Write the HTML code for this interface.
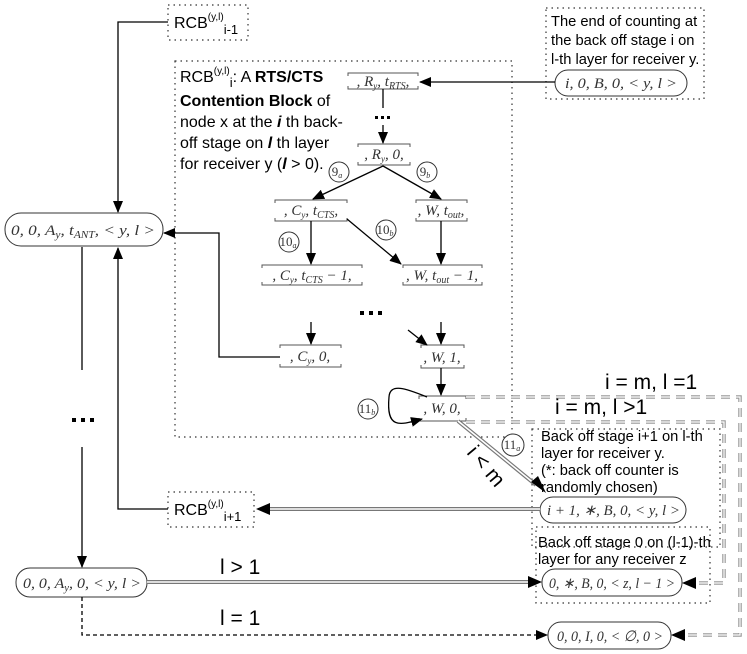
<!DOCTYPE html>
<html><head><meta charset="utf-8"><style>
html,body{margin:0;padding:0;background:#fff}
svg{display:block}
.t{font-family:"Liberation Sans",sans-serif;font-size:16px;fill:#000}
.s{font-size:14.7px}
.m{font-family:"Liberation Serif",serif;font-size:15px;fill:#333;font-style:italic}
.dot{fill:none;stroke:#333;stroke-width:1.2;stroke-dasharray:1.5,4}
.ln{fill:none;stroke:#000;stroke-width:1.3}
.el{fill:#fff;stroke:#333;stroke-width:1}
.bx{fill:none;stroke:#555;stroke-width:1}
.dbl{fill:none;stroke:#777;stroke-width:4}
.dblw{fill:none;stroke:#fff;stroke-width:1.6}
.gd{fill:none;stroke:#999;stroke-width:3.5;stroke-dasharray:9,6}
.gdw{fill:none;stroke:#fff;stroke-width:1.2;stroke-dasharray:9,6}
</style></head><body>
<svg width="747" height="654" viewBox="0 0 747 654" xmlns="http://www.w3.org/2000/svg">
<defs>
<marker id="a" markerWidth="12" markerHeight="10" refX="11" refY="5" orient="auto" markerUnits="userSpaceOnUse"><path d="M0,0 L12,5 L0,10 Z" fill="#000"/></marker>
</defs>
<rect class="dot" x="168" y="5" width="80" height="35"/>
<rect class="dot" x="175" y="61" width="337" height="376"/>
<rect class="dot" x="546" y="8" width="158" height="91"/>
<rect class="dot" x="532" y="429" width="188" height="118"/>
<rect class="dot" x="536" y="527" width="174" height="76"/>
<rect class="dot" x="168" y="492" width="86" height="35"/>

<text class="t" x="174" y="28">RCB<tspan font-size="10" dy="-8">(y,l)</tspan><tspan font-size="13" dy="14">i-1</tspan></text>
<text class="t" x="174" y="515">RCB<tspan font-size="10" dy="-8">(y,l)</tspan><tspan font-size="13" dy="14">i+1</tspan></text>
<text class="t" x="180" y="82">RCB<tspan font-size="10" dy="-8">(y,l)</tspan><tspan font-size="13" dy="13">i</tspan><tspan dy="-5">: A </tspan><tspan font-weight="bold">RTS/CTS</tspan></text>
<text class="t" x="180" y="106"><tspan font-weight="bold">Contention Block</tspan> of</text>
<text class="t" x="180" y="127">node x at the <tspan font-weight="bold" font-style="italic">i</tspan> th back-</text>
<text class="t" x="180" y="148">off stage on <tspan font-weight="bold" font-style="italic">l</tspan> th layer</text>
<text class="t" x="180" y="169">for receiver y (<tspan font-weight="bold" font-style="italic">l</tspan> &gt; 0).</text>

<text class="t s" x="551" y="26">The end of counting at</text>
<text class="t s" x="551" y="45">the back off stage i on</text>
<text class="t s" x="551" y="64">l-th layer for receiver y.</text>
<text class="t s" x="541" y="441">Back off stage i+1 on l-th</text>
<text class="t s" x="541" y="458">layer for receiver y.</text>
<text class="t s" x="541" y="475">(*: back off counter is</text>
<text class="t s" x="541" y="492">randomly chosen)</text>
<text class="t s" x="538" y="547">Back off stage 0 on (l-1)-th</text>
<text class="t s" x="538" y="564">layer for any receiver z</text>

<rect class="el" x="555" y="70" width="132" height="26" rx="13"/>
<text class="m" x="565" y="88" textLength="112" lengthAdjust="spacingAndGlyphs">i, 0, B, 0, &lt; y, l &gt;</text>
<rect class="el" x="5" y="213" width="158" height="33" rx="16"/>
<text class="m" x="11" y="235" textLength="144" lengthAdjust="spacingAndGlyphs">0, 0, A<tspan font-size="10" dy="3">y</tspan><tspan dy="-3">, t</tspan><tspan font-size="10" dy="3">ANT</tspan><tspan dy="-3">, &lt; y, l &gt;</tspan></text>
<rect class="el" x="540" y="497" width="146" height="26" rx="13"/>
<text class="m" x="547" y="515" textLength="133" lengthAdjust="spacingAndGlyphs">i + 1, ∗, B, 0, &lt; y, l &gt;</text>
<rect class="el" x="542" y="569" width="140" height="27" rx="13"/>
<text class="m" x="549" y="588" textLength="126" lengthAdjust="spacingAndGlyphs">0, ∗, B, 0, &lt; z, l − 1 &gt;</text>
<rect class="el" x="16" y="568" width="131" height="29" rx="14"/>
<text class="m" x="23" y="588" textLength="118" lengthAdjust="spacingAndGlyphs">0, 0, A<tspan font-size="10" dy="3">y</tspan><tspan dy="-3">, 0, &lt; y, l &gt;</tspan></text>
<rect class="el" x="548" y="622" width="123" height="27" rx="13"/>
<text class="m" x="557" y="641" textLength="106" lengthAdjust="spacingAndGlyphs">0, 0, I, 0, &lt; ∅, 0 &gt;</text>

<g class="bx">
<path d="M348,76 V73 H418 V76 M348,86 V89 H418 V86"/>
<path d="M358,147 V144 H410 V147 M358,162 V165 H410 V162"/>
<path d="M275,203 V200 H347 V203 M275,218 V221 H347 V218"/>
<path d="M416,203 V200 H467 V203 M416,218 V221 H467 V218"/>
<path d="M262,268 V265 H362 V268 M262,282 V285 H362 V282"/>
<path d="M403,268 V265 H482 V268 M403,282 V285 H482 V282"/>
<path d="M280,348 V345 H341 V348 M280,364 V367 H341 V364"/>
<path d="M421,348 V345 H464 V348 M421,365 V368 H464 V365"/>
<path d="M419,399 V396 H466 V399 M419,418 V421 H466 V418"/>
</g>
<g class="m" font-size="15">
<text x="383" y="86" text-anchor="middle">, R<tspan font-size="9" dy="3">y</tspan><tspan dy="-3">, t</tspan><tspan font-size="10" dy="3">RTS</tspan><tspan dy="-3">,</tspan></text>
<text x="384" y="159" text-anchor="middle">, R<tspan font-size="9" dy="3">y</tspan><tspan dy="-3">, 0,</tspan></text>
<text x="311" y="215" text-anchor="middle">, C<tspan font-size="9" dy="3">y</tspan><tspan dy="-3">, t</tspan><tspan font-size="10" dy="3">CTS</tspan><tspan dy="-3">,</tspan></text>
<text x="441" y="215" text-anchor="middle">, W, t<tspan font-size="10" dy="3">out</tspan><tspan dy="-3">,</tspan></text>
<text x="312" y="280" text-anchor="middle">, C<tspan font-size="9" dy="3">y</tspan><tspan dy="-3">, t</tspan><tspan font-size="10" dy="3">CTS</tspan><tspan dy="-3"> − 1,</tspan></text>
<text x="442" y="280" text-anchor="middle">, W, t<tspan font-size="10" dy="3">out</tspan><tspan dy="-3"> − 1,</tspan></text>
<text x="310" y="361" text-anchor="middle">, C<tspan font-size="9" dy="3">y</tspan><tspan dy="-3">, 0,</tspan></text>
<text x="442" y="362" text-anchor="middle">, W, 1,</text>
<text x="442" y="413" text-anchor="middle">, W, 0,</text>
</g>

<g fill="#fff" stroke="#333" stroke-width="1">
<circle cx="339" cy="172" r="10"/><circle cx="427" cy="172" r="10"/>
<circle cx="289" cy="242" r="10"/><circle cx="386" cy="230" r="10"/>
<circle cx="368" cy="409" r="10"/><circle cx="513" cy="445" r="11"/>
</g>
<g font-family="Liberation Serif, serif" font-size="13" fill="#333" text-anchor="middle">
<text x="337" y="176">9<tspan font-size="8" dy="2" font-style="italic">a</tspan></text>
<text x="425" y="176">9<tspan font-size="8" dy="2" font-style="italic">b</tspan></text>
<text x="288" y="246">10<tspan font-size="8" dy="2" font-style="italic">a</tspan></text>
<text x="385" y="234">10<tspan font-size="8" dy="2" font-style="italic">b</tspan></text>
<text x="367" y="413">11<tspan font-size="8" dy="2" font-style="italic">b</tspan></text>
<text x="512" y="449">11<tspan font-size="8" dy="2" font-style="italic">a</tspan></text>
</g>

<g fill="#000">
<rect x="375" y="116" width="3" height="3"/><rect x="381" y="116" width="3" height="3"/><rect x="387" y="116" width="3" height="3"/>
<rect x="360" y="311" width="4" height="4"/><rect x="369" y="311" width="4" height="4"/><rect x="378" y="311" width="4" height="4"/>
<rect x="72" y="418" width="4" height="4"/><rect x="81" y="418" width="4" height="4"/><rect x="90" y="418" width="4" height="4"/>
</g>

<g class="ln">
<path d="M555,82 H420" marker-end="url(#a)"/>
<path d="M383,89 V108"/>
<path d="M383,125 V143" marker-end="url(#a)"/>
<path d="M383,166 L313,199" marker-end="url(#a)"/>
<path d="M383,166 L441,199" marker-end="url(#a)"/>
<path d="M311,221 V264" marker-end="url(#a)"/>
<path d="M347,219 L401,264" marker-end="url(#a)"/>
<path d="M441,221 V264" marker-end="url(#a)"/>
<path d="M311,322 V344" marker-end="url(#a)"/>
<path d="M408,330 L427,345" marker-end="url(#a)"/>
<path d="M441,322 V344" marker-end="url(#a)"/>
<path d="M441,368 V395" marker-end="url(#a)"/>
<path d="M427,397 C405,388 390,383 389,397 C386,430 400,425 422,419" marker-end="url(#a)"/>
<path d="M280,357 H219 V233 H164" marker-end="url(#a)"/>
<path d="M168,22 H118 V212" marker-end="url(#a)"/>
<path d="M168,509 H118 V248" marker-end="url(#a)"/>
<path d="M82,247 V370"/>
<path d="M82,447 V567" marker-end="url(#a)"/>
<path d="M82,597 V635 H547" stroke-dasharray="4,3" marker-end="url(#a)"/>
</g>

<path class="dbl" d="M458,421 L536,485"/><path class="dblw" d="M458,421 L536,485"/>
<path d="M531,482 L546,493 L538,476 Z" fill="#000"/>
<path class="dbl" d="M540,509 H268"/><path class="dblw" d="M540,509 H268"/>
<path d="M256,509 L270,503 L270,515 Z" fill="#000"/>
<path class="dbl" d="M147,582 H530"/><path class="dblw" d="M147,582 H530"/>
<path d="M542,582 L528,576 L528,588 Z" fill="#000"/>

<path class="gd" d="M466,397 H740 V635 H683"/><path class="gdw" d="M466,397 H740 V635 H683"/>
<path d="M671,635 L685,629 L685,641 Z" fill="#000"/>
<path class="gd" d="M466,422 H724 V583 H694"/><path class="gdw" d="M466,422 H724 V583 H694"/>
<path d="M682,583 L696,577 L696,589 Z" fill="#000"/>

<text class="t" x="605" y="389" style="font-size:21px">i = m, l =1</text>
<text class="t" x="555" y="414" style="font-size:21px">i = m, l &gt;1</text>
<text class="t" x="220" y="574" style="font-size:21px">l &gt; 1</text>
<text class="t" x="220" y="625" style="font-size:21px">l = 1</text>
<text class="t" transform="translate(466,453) rotate(50)" style="font-size:21px">i &lt; m</text>
</svg>
</body></html>
